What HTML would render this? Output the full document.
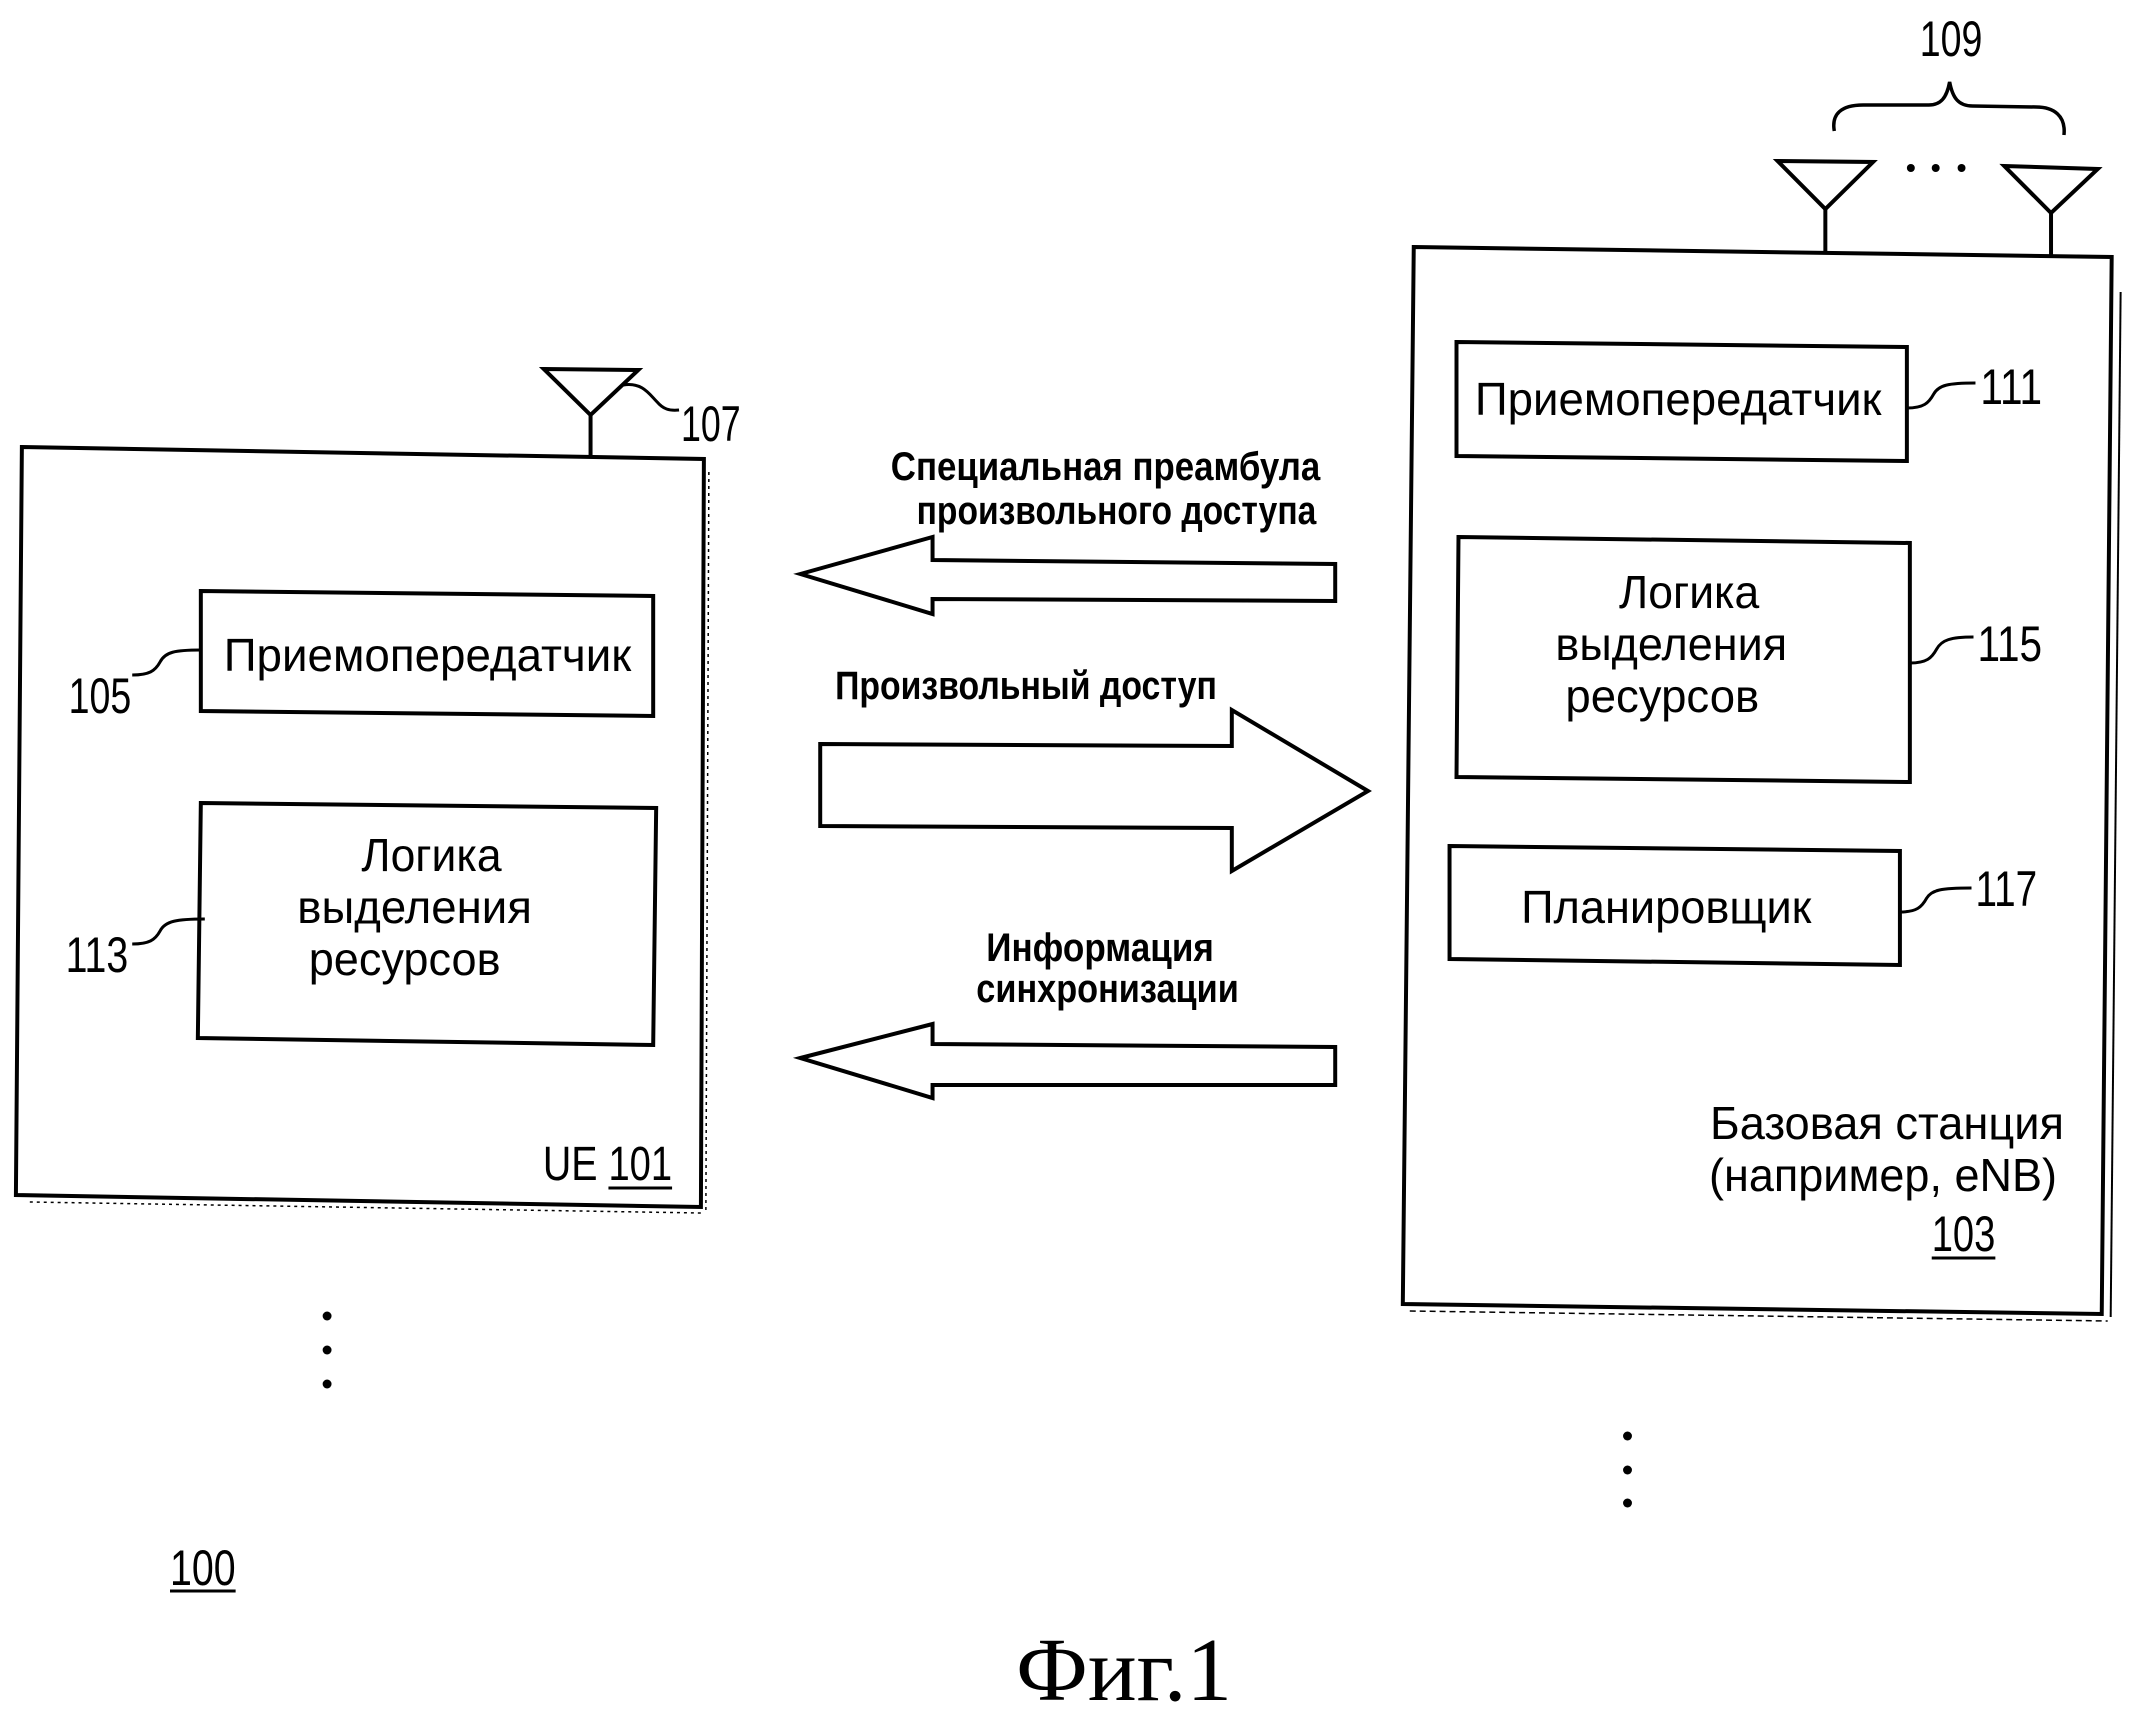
<!DOCTYPE html>
<html><head><meta charset="utf-8">
<style>
html,body{margin:0;padding:0;background:#fff;}
svg{display:block;}
text{font-family:"Liberation Sans",Arial,sans-serif;fill:#000;}
.b{font-weight:bold;}
.s{font-family:"Liberation Serif","Times New Roman",serif;}
</style></head><body>
<svg width="2140" height="1716" viewBox="0 0 2140 1716" xmlns="http://www.w3.org/2000/svg">
<rect width="2140" height="1716" fill="#fff"/>
<g transform="translate(0,2) scale(0.9942,1)">
<g fill="none" stroke="#000" stroke-width="4" stroke-linejoin="miter">
  <!-- UE box -->
  <polygon points="22,445 708,457 705,1205 16,1193"/>
  <line x1="713" y1="470" x2="710" y2="1208" stroke-width="1.5" stroke-dasharray="3,4"/>
  <line x1="30" y1="1200" x2="705" y2="1211" stroke-width="1.5" stroke-dasharray="3,4"/>
  <!-- UE antenna -->
  <polygon points="547,367 642,368 594,413"/>
  <line x1="594" y1="413" x2="594" y2="455"/>
  <path d="M627,383 C646,380 653,392 661,400 C667,407 673,409 683,408" stroke-width="3"/>
  <!-- UE transceiver -->
  <polygon points="202,589 657,594 657,714 202,709"/>
  <path d="M133,673 C150,673 156,669 161,660 C166,650 176,648 202,648" stroke-width="3"/>
  <!-- UE logic -->
  <polygon points="202,801 660,806 657,1043 199,1036"/>
  <path d="M133,942 C150,942 156,938 161,929 C166,919 178,917 206,917" stroke-width="3"/>

  <!-- Arrow 1 (left) -->
  <polygon points="805,572 938,535 938,558 1343,562 1343,599 938,597 938,612"/>
  <!-- Arrow 2 (right) -->
  <polygon points="825,742 1239,744 1239,708 1376,789 1239,869 1239,826 825,824"/>
  <!-- Arrow 3 (left) -->
  <polygon points="805,1056 938,1022 938,1042 1343,1045 1343,1083 938,1083 938,1096"/>

  <!-- BS box -->
  <polygon points="1422,245 2124,255 2114,1312 1411,1302"/>
  <line x1="2133" y1="290" x2="2123" y2="1315" stroke-width="2"/>
  <line x1="1418" y1="1309" x2="2120" y2="1319" stroke-width="1.5" stroke-dasharray="6,4"/>
  <!-- BS antennas -->
  <polygon points="1788,159 1884,160 1836,207"/>
  <line x1="1836" y1="207" x2="1836" y2="250"/>
  <polygon points="2016,164 2110,167 2063,211"/>
  <line x1="2063" y1="211" x2="2063" y2="256"/>
  <!-- brace -->
  <path d="M1845,129 C1842,112 1852,103 1874,103 L1940,103 C1952,103 1958,96 1961,80 C1964,96 1970,104 1984,104 L2048,105 C2066,105 2078,114 2076,133" stroke-width="3.5"/>
  <!-- BS transceiver -->
  <polygon points="1465,340 1918,345 1918,459 1465,454"/>
  <path d="M1918,406 C1935,406 1940,401 1945,392 C1950,383 1960,381 1987,381" stroke-width="3"/>
  <!-- BS logic -->
  <polygon points="1467,535 1921,541 1921,780 1465,775"/>
  <path d="M1921,661 C1938,661 1943,656 1948,647 C1953,638 1962,635 1985,635" stroke-width="3"/>
  <!-- Scheduler -->
  <polygon points="1458,844 1911,849 1911,963 1458,957"/>
  <path d="M1911,910 C1928,910 1933,905 1938,896 C1943,888 1952,886 1983,886" stroke-width="3"/>

  <!-- underlines -->
  <line x1="612" y1="1186" x2="676" y2="1186" stroke-width="3"/>
  <line x1="171" y1="1589" x2="237" y2="1589" stroke-width="3"/>
  <line x1="1943" y1="1256" x2="2007" y2="1256" stroke-width="3"/>
</g>
<g fill="#000">
  <circle cx="329" cy="1314" r="4.5"/>
  <circle cx="329" cy="1348" r="4.5"/>
  <circle cx="329" cy="1382" r="4.5"/>
  <circle cx="1637" cy="1434" r="4.5"/>
  <circle cx="1637" cy="1468" r="4.5"/>
  <circle cx="1637" cy="1501" r="4.5"/>
  <circle cx="1922" cy="166" r="4"/>
  <circle cx="1947" cy="166" r="4"/>
  <circle cx="1973" cy="166" r="4"/>
</g>

<!-- reference numerals -->
<text x="685" y="439" font-size="50" textLength="60" lengthAdjust="spacingAndGlyphs">107</text>
<text x="69" y="711" font-size="50" textLength="63" lengthAdjust="spacingAndGlyphs">105</text>
<text x="66" y="970" font-size="50" textLength="63" lengthAdjust="spacingAndGlyphs">113</text>
<text x="1931" y="54" font-size="50" textLength="63" lengthAdjust="spacingAndGlyphs">109</text>
<text x="1992" y="402" font-size="50" textLength="62" lengthAdjust="spacingAndGlyphs">111</text>
<text x="1989" y="659" font-size="50" textLength="65" lengthAdjust="spacingAndGlyphs">115</text>
<text x="1987" y="904" font-size="50" textLength="62" lengthAdjust="spacingAndGlyphs">117</text>
<text x="171" y="1583" font-size="50" textLength="66" lengthAdjust="spacingAndGlyphs">100</text>

<!-- UE labels -->
<text x="430" y="669" font-size="46" text-anchor="middle" textLength="410" lengthAdjust="spacingAndGlyphs">Приемопередатчик</text>
<text x="434" y="869" font-size="46" text-anchor="middle" textLength="141" lengthAdjust="spacingAndGlyphs">Логика</text>
<text x="417" y="921" font-size="46" text-anchor="middle" textLength="236" lengthAdjust="spacingAndGlyphs">выделения</text>
<text x="407" y="973" font-size="46" text-anchor="middle" textLength="193" lengthAdjust="spacingAndGlyphs">ресурсов</text>
<text x="546" y="1178" font-size="48" textLength="55" lengthAdjust="spacingAndGlyphs">UE</text>
<text x="612" y="1178" font-size="48" textLength="64" lengthAdjust="spacingAndGlyphs">101</text>

<!-- Arrow labels -->
<text class="b" x="896" y="478" font-size="40" textLength="432" lengthAdjust="spacingAndGlyphs">Специальная преамбула</text>
<text class="b" x="922" y="522" font-size="40" textLength="402" lengthAdjust="spacingAndGlyphs">произвольного доступа</text>
<text class="b" x="840" y="697" font-size="40" textLength="384" lengthAdjust="spacingAndGlyphs">Произвольный доступ</text>
<text class="b" x="992" y="959" font-size="40" textLength="229" lengthAdjust="spacingAndGlyphs">Информация</text>
<text class="b" x="982" y="1000" font-size="40" textLength="264" lengthAdjust="spacingAndGlyphs">синхронизации</text>

<!-- BS labels -->
<text x="1688" y="413" font-size="46" text-anchor="middle" textLength="409" lengthAdjust="spacingAndGlyphs">Приемопередатчик</text>
<text x="1699" y="606" font-size="46" text-anchor="middle" textLength="141" lengthAdjust="spacingAndGlyphs">Логика</text>
<text x="1681" y="658" font-size="46" text-anchor="middle" textLength="233" lengthAdjust="spacingAndGlyphs">выделения</text>
<text x="1672" y="710" font-size="46" text-anchor="middle" textLength="195" lengthAdjust="spacingAndGlyphs">ресурсов</text>
<text x="1676" y="921" font-size="46" text-anchor="middle" textLength="292" lengthAdjust="spacingAndGlyphs">Планировщик</text>
<text x="1720" y="1137" font-size="46" textLength="356" lengthAdjust="spacingAndGlyphs">Базовая станция</text>
<text x="1719" y="1189" font-size="46" textLength="350" lengthAdjust="spacingAndGlyphs">(например, eNB)</text>
<text x="1943" y="1249" font-size="50" textLength="64" lengthAdjust="spacingAndGlyphs">103</text>
</g>

<!-- Figure caption -->
<text class="s" x="1016" y="1700" font-size="90" textLength="216" lengthAdjust="spacingAndGlyphs">Фиг.1</text>
</svg>
</body></html>
